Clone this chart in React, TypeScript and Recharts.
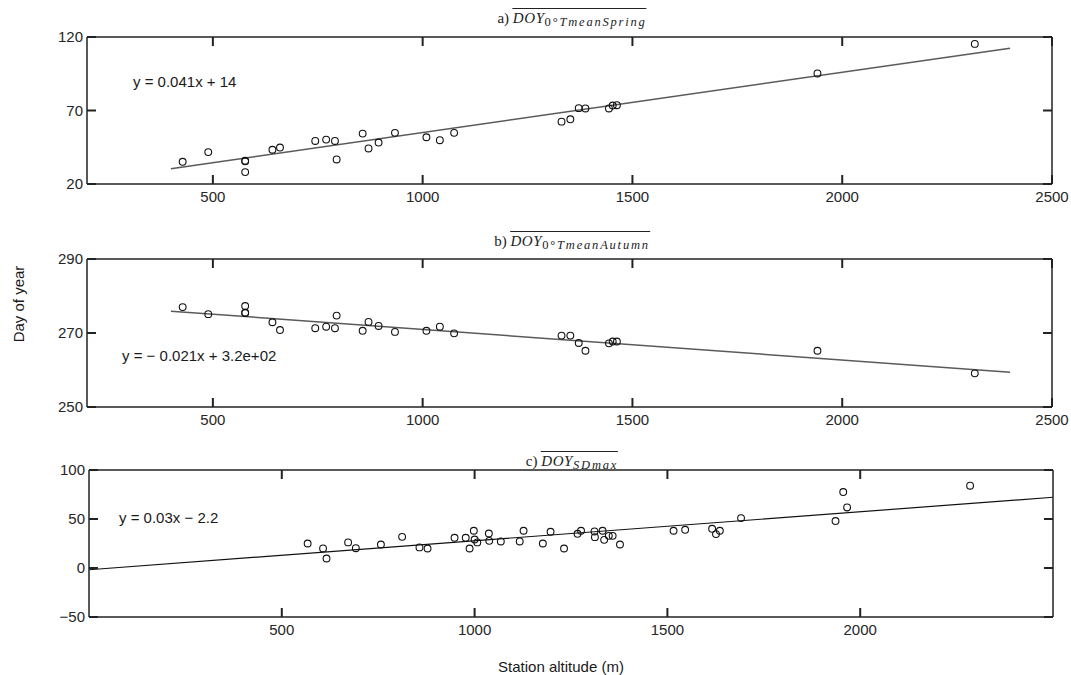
import React from "react";
import { ComposedChart, Line, Scatter, XAxis, YAxis } from "recharts";

// stations used in panels a) and b)
const altitudeAB = [
  428, 489, 577, 577, 577, 642, 660, 744, 770, 791, 795, 857, 871, 895, 934, 1009, 1041, 1075, 1331, 1352,
  1372, 1388, 1444, 1453, 1463, 1941, 2316
];
const springDoy = [
  35.1, 41.7, 35.8, 35.4, 28.1, 43.3, 44.8, 49.3, 50.2, 49.3, 36.7, 54.3, 44.2, 48.2, 54.8, 51.8, 49.8, 54.8, 62.4,
  64.0, 71.6, 71.4, 71.4, 73.4, 73.6, 95.2, 115.3
];
const autumnDoy = [
  277.0, 275.1, 277.3, 275.5, 275.4, 272.9, 270.8, 271.3, 271.7, 271.3, 274.7, 270.6, 273.0, 271.9, 270.3, 270.6,
  271.7, 269.9, 269.3, 269.3, 267.3, 265.2, 267.2, 267.7, 267.7, 265.2, 259.1
];

// stations used in panel c)
const altitudeC = [
  567, 607, 616, 672, 692, 757, 812, 857, 878, 948, 977, 998, 987, 1000, 1007, 1037, 1038, 1068, 1117, 1127, 1177,
  1197, 1232, 1267, 1276, 1311, 1312, 1332, 1336, 1348, 1358, 1377, 1516, 1546, 1616, 1626, 1636, 1691, 1936, 1956,
  1966, 2285
];
const sdMaxDoy = [
  25.0, 20.0, 9.7, 26.1, 20.2, 24.0, 31.8, 21.0, 19.9, 30.8, 30.8, 38.0, 19.9, 29.1, 26.1, 35.2, 27.7, 27.1, 27.1,
  38.0, 25.0, 37.0, 19.9, 34.9, 38.0, 37.3, 31.5, 38.0, 28.7, 32.8, 32.8, 24.0, 38.0, 39.0, 40.0, 34.6, 38.0, 50.9,
  47.9, 77.5, 61.8, 84.0
];

// fitted lines, end points
const trendX = [400, 2400];
const springTrendY = [30.4, 112.4];
const autumnTrendY = [275.9, 259.4];
const sdTrendX = [0, 2500];
const sdTrendY = [-1.8, 72.2];

const xTicksAB = [500, 1000, 1500, 2000, 2500];
const xTicksC = [500, 1000, 1500, 2000];
const yTicksA = [20, 70, 120];
const yTicksB = [250, 270, 290];
const yTicksC = [-50, 0, 50, 100];

const zip = (xs: number[], ys: number[]) => xs.map((x, i) => ({ x, y: ys[i] }));

const SANS = '"Liberation Sans", Arial, Helvetica, sans-serif';
const SERIF = '"Liberation Serif", "Times New Roman", serif';
const AX = "#222";
const TICK = 9;
const TW = 2;
const fmt = (v: number) => String(v).replace("-", "\u2212");

// tick renderers: inward tick mark plus (for bottom/left) the label
const BottomTick = (p: any) => (
  <g>
    <line x1={p.x} y1={p.y} x2={p.x} y2={p.y - TICK} stroke={AX} strokeWidth={TW} />
    <text x={p.x} y={p.y + 7} dy="0.71em" textAnchor="middle" fill="#262626" fontSize={15} fontFamily={SANS}>
      {fmt(p.payload.value)}
    </text>
  </g>
);
const LeftTick = (p: any) => (
  <g>
    <line x1={p.x} y1={p.y} x2={p.x + TICK} y2={p.y} stroke={AX} strokeWidth={TW} />
    <text x={p.x - 4} y={p.y} dy="0.355em" textAnchor="end" fill="#262626" fontSize={15} fontFamily={SANS}>
      {fmt(p.payload.value)}
    </text>
  </g>
);
const TopTick = (p: any) => <line x1={p.x} y1={p.y} x2={p.x} y2={p.y + TICK} stroke={AX} strokeWidth={TW} />;
const RightTick = (p: any) => <line x1={p.x} y1={p.y} x2={p.x - TICK} y2={p.y} stroke={AX} strokeWidth={TW} />;

const Ring = (props: any) => (
  <circle cx={props.cx} cy={props.cy} r={3.4} fill="none" stroke="#111" strokeWidth={1.1} />
);

type PanelProps = {
  top: number;
  margin: { top: number; right: number; bottom: number; left: number };
  xDomain: [number, number];
  xTicks: number[];
  yDomain: [number, number];
  yTicks: number[];
  points: { x: number; y: number }[];
  trend: { x: number; y: number }[];
  trendColor: string;
  trendWidth: number;
};

function Panel({ top, margin, xDomain, xTicks, yDomain, yTicks, points, trend, trendColor, trendWidth }: PanelProps) {
  const axisLine = { stroke: AX, strokeWidth: 1.5 };
  const xCommon = {
    type: "number" as const,
    dataKey: "x",
    domain: xDomain,
    ticks: xTicks,
    interval: 0,
    allowDataOverflow: true,
    tickSize: 0,
    tickMargin: 0,
    tickLine: false,
    axisLine
  };
  const yCommon = {
    type: "number" as const,
    dataKey: "y",
    domain: yDomain,
    ticks: yTicks,
    interval: 0,
    allowDataOverflow: true,
    tickSize: 0,
    tickMargin: 0,
    tickLine: false,
    axisLine
  };
  return (
    <div style={{ position: "absolute", left: 0, top }}>
      <ComposedChart width={1071} height={215} margin={margin}>
        <XAxis {...xCommon} height={30} tick={BottomTick} />
        <YAxis {...yCommon} width={60} tick={LeftTick} />
        <XAxis {...xCommon} xAxisId="tm" orientation="top" mirror height={8} tick={TopTick} />
        <YAxis {...yCommon} yAxisId="rm" orientation="right" mirror width={8} tick={RightTick} />
        <Line
          data={trend}
          dataKey="y"
          type="linear"
          stroke={trendColor}
          strokeWidth={trendWidth}
          dot={false}
          activeDot={false}
          isAnimationActive={false}
        />
        <Scatter data={points} dataKey="y" shape={Ring} isAnimationActive={false} />
      </ComposedChart>
    </div>
  );
}

function Title({ top, letter, sub }: { top: number; letter: string; sub: React.ReactNode }) {
  return (
    <div
      style={{
        position: "absolute",
        left: 572,
        top,
        transform: "translateX(-50%)",
        fontFamily: SERIF,
        fontSize: 15,
        lineHeight: "16px",
        color: "#222",
        whiteSpace: "nowrap"
      }}
    >
      {letter}{" "}
      <span style={{ display: "inline-block", borderTop: "1px solid #222", paddingTop: 1 }}>
        <i style={{ letterSpacing: 0.6 }}>DOY</i>
        <span style={{ fontSize: 12.5, fontStyle: "italic", letterSpacing: 1.8, position: "relative", top: 3 }}>
          {sub}
        </span>
      </span>
    </div>
  );
}

const eqStyle: React.CSSProperties = {
  position: "absolute",
  fontFamily: SANS,
  fontSize: 15,
  lineHeight: "18px",
  color: "#1a1a1a",
  whiteSpace: "nowrap"
};

export default function App() {
  return (
    <div
      style={{
        position: "absolute",
        left: 0,
        top: 0,
        width: 1071,
        height: 675,
        background: "#fff",
        overflow: "hidden"
      }}
    >
      <Panel
        top={0}
        margin={{ top: 37, right: 19, bottom: 1, left: 27 }}
        xDomain={[200, 2500]}
        xTicks={xTicksAB}
        yDomain={[20, 120]}
        yTicks={yTicksA}
        points={zip(altitudeAB, springDoy)}
        trend={zip(trendX, springTrendY)}
        trendColor="#5a5a5a"
        trendWidth={1.5}
      />
      <Panel
        top={225}
        margin={{ top: 34, right: 19, bottom: 3, left: 27 }}
        xDomain={[200, 2500]}
        xTicks={xTicksAB}
        yDomain={[250, 290]}
        yTicks={yTicksB}
        points={zip(altitudeAB, autumnDoy)}
        trend={zip(trendX, autumnTrendY)}
        trendColor="#5a5a5a"
        trendWidth={1.5}
      />
      <Panel
        top={445}
        margin={{ top: 25, right: 18, bottom: 13, left: 29 }}
        xDomain={[0, 2500]}
        xTicks={xTicksC}
        yDomain={[-50, 100]}
        yTicks={yTicksC}
        points={zip(altitudeC, sdMaxDoy)}
        trend={zip(sdTrendX, sdTrendY)}
        trendColor="#111"
        trendWidth={1.2}
      />

      <Title top={8} letter="a)" sub={<><span style={{ fontStyle: "normal" }}>0°</span>TmeanSpring</>} />
      <Title top={231} letter="b)" sub={<><span style={{ fontStyle: "normal" }}>0°</span>TmeanAutumn</>} />
      <Title top={451} letter="c)" sub="SDmax" />

      <div style={{ ...eqStyle, left: 133, top: 73 }}>y = 0.041x + 14</div>
      <div style={{ ...eqStyle, left: 122, top: 347 }}>y = {"\u2212"} 0.021x + 3.2e+02</div>
      <div style={{ ...eqStyle, left: 119, top: 509 }}>y = 0.03x {"\u2212"} 2.2</div>

      <div
        style={{
          ...eqStyle,
          left: 19,
          top: 304,
          transform: "translate(-50%, -50%) rotate(-90deg)"
        }}
      >
        Day of year
      </div>
      <div style={{ ...eqStyle, left: 561, top: 667, transform: "translate(-50%, -50%)" }}>
        Station altitude (m)
      </div>
    </div>
  );
}
